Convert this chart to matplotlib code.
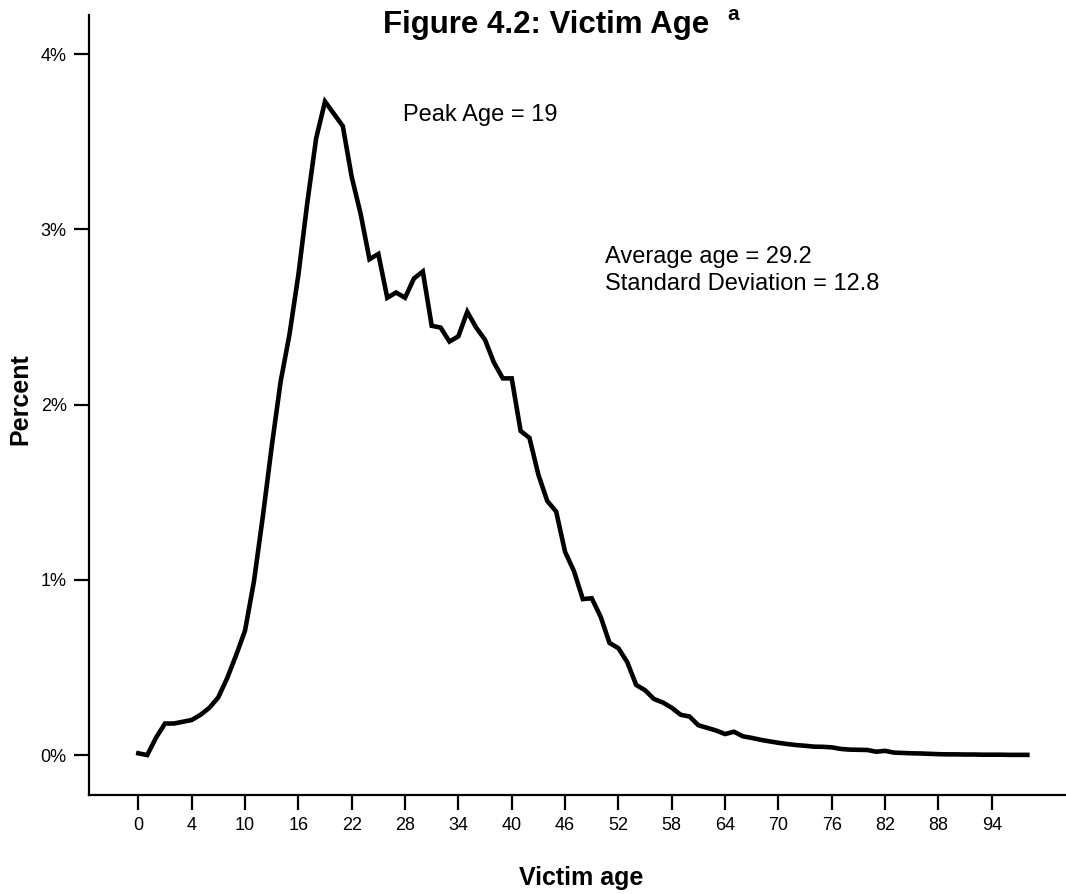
import numpy as np
import matplotlib
matplotlib.use("Agg")
import matplotlib.pyplot as plt
from matplotlib.ticker import FuncFormatter

plt.rcParams['font.family'] = ['Liberation Sans', 'DejaVu Sans']

# Percent of victims by age category (category index 0..100)
percent = [
    0.01, 0.00, 0.10, 0.18, 0.18, 0.19, 0.20, 0.23, 0.27, 0.33,
    0.44, 0.57, 0.71, 0.99, 1.36, 1.76, 2.13, 2.40, 2.74, 3.15,
    3.52, 3.73, 3.66, 3.59, 3.30, 3.09, 2.83, 2.86, 2.61, 2.64,
    2.61, 2.72, 2.76, 2.45, 2.44, 2.36, 2.39, 2.53, 2.44, 2.37,
    2.24, 2.15, 2.15, 1.85, 1.81, 1.60, 1.45, 1.39, 1.16, 1.05,
    0.89, 0.895, 0.79, 0.64, 0.61, 0.53, 0.40, 0.37, 0.32, 0.30,
    0.27, 0.23, 0.22, 0.17, 0.155, 0.14, 0.12, 0.133, 0.107, 0.098,
    0.087, 0.078, 0.070, 0.063, 0.057, 0.053, 0.048, 0.047, 0.044, 0.035,
    0.031, 0.030, 0.029, 0.019, 0.024, 0.014, 0.012, 0.010, 0.009, 0.007,
    0.005, 0.004, 0.004, 0.003, 0.003, 0.002, 0.002, 0.002, 0.001, 0.001,
    0.001,
]
x_tick_labels = ["0", "4", "10", "16", "22", "28", "34", "40", "46", "52",
                 "58", "64", "70", "76", "82", "88", "94"]
y_ticks = [0, 1, 2, 3, 4]

W, H = 1066, 894
fig = plt.figure(figsize=(W / 100, H / 100), dpi=100)
ax = fig.add_axes([89 / W, 1 - 795 / H, (W - 89) / W, (795 - 15) / H])

x = np.arange(len(percent))
ax.plot(x, percent, color='black', lw=3.3, solid_joinstyle='miter')

ax.set_xlim(-5.55, 104.35)
ax.set_ylim(-0.228, 4.224)
ax.set_xticks(x[::6][:len(x_tick_labels)])
ax.set_xticklabels(x_tick_labels)
ax.set_yticks(y_ticks)
ax.yaxis.set_major_formatter(FuncFormatter(lambda v, p: f"{v:.0f}%"))

for s in ['top', 'right']:
    ax.spines[s].set_visible(False)
for s in ['left', 'bottom']:
    ax.spines[s].set_linewidth(1.6)
ax.tick_params(axis='both', direction='out', length=11, width=1.6,
               labelsize=13, pad=5)

fig.text(581 / W, 1 - 885 / H, "Victim age", fontsize=18, fontweight='bold',
         ha='center', va='baseline')
fig.text(32 / W, 1 - 399 / H, "Percent", fontsize=18, fontweight='bold',
         rotation=90, ha='right', va='center')

fig.text(383 / W, 1 - 33 / H, "Figure 4.2: Victim Age", fontsize=22.5,
         fontweight='bold', ha='left', va='baseline')
fig.text(727 / W, 1 - 20 / H, "a", fontsize=15, fontweight='bold',
         ha='left', va='baseline')

fig.text(403 / W, 1 - 121 / H, "Peak Age = 19", fontsize=17,
         ha='left', va='baseline')
fig.text(605 / W, 1 - 263 / H, "Average age = 29.2", fontsize=17,
         ha='left', va='baseline')
fig.text(605 / W, 1 - 290 / H, "Standard Deviation = 12.8", fontsize=17,
         ha='left', va='baseline')

fig.savefig("out.png", dpi=100)
